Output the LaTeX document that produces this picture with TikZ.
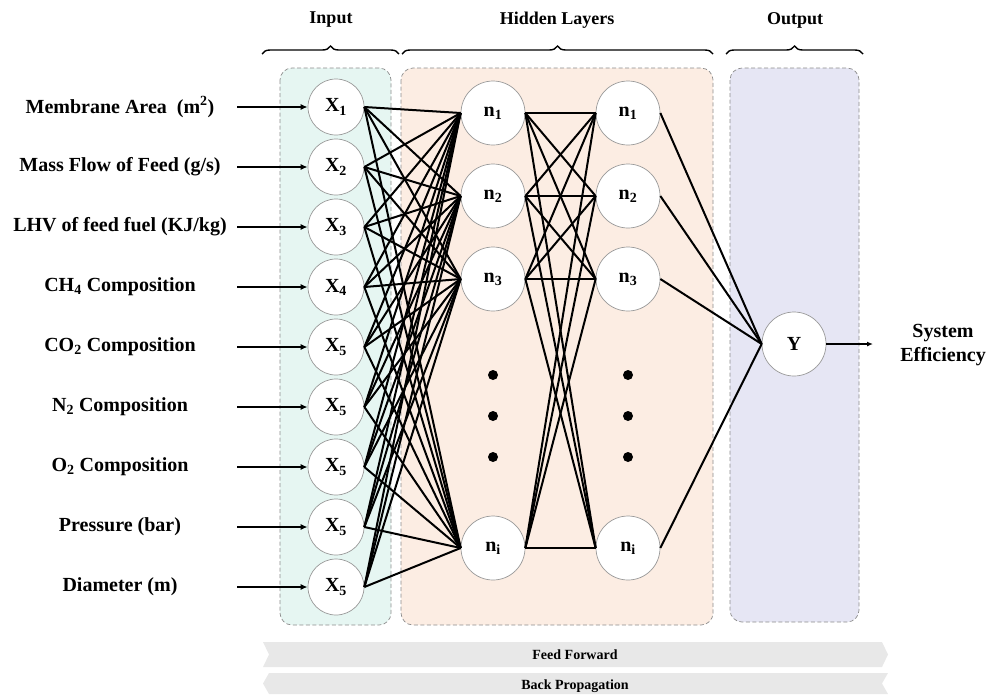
\documentclass[tikz,border=0pt]{standalone}
\usepackage{fontspec}
\setmainfont{Liberation Serif}
\usepackage{xcolor}
\usepackage{tikz}
\usetikzlibrary{arrows.meta,decorations.pathreplacing}

\definecolor{inbox}{HTML}{E6F6F2}
\definecolor{hidbox}{HTML}{FCEDE3}
\definecolor{outbox}{HTML}{E6E6F4}
\definecolor{band}{HTML}{E8E8E8}

\tikzset{
  neuron/.style={circle, draw=black!40, fill=white, line width=0.7pt, minimum size=56pt, inner sep=0pt, font=\fontsize{20}{22}\selectfont\bfseries},
  hidneuron/.style={neuron, minimum size=64pt},
  layerbox/.style={draw=black!45, dash pattern=on 4pt off 2.5pt, line width=0.7pt, rounded corners=12pt},
  link/.style={line width=2pt},
  feature/.style={font=\fontsize{20}{24}\selectfont\bfseries},
  header/.style={font=\fontsize{18}{20}\selectfont\bfseries},
  layerbrace/.style={decorate, decoration={brace, amplitude=8pt}, line width=1.4pt},
  bandtext/.style={font=\fontsize{14}{16}\selectfont\bfseries}
}

\begin{document}
\begin{tikzpicture}[x=1pt, y=-1pt]
\useasboundingbox (0,0) rectangle (992,694);

% layer boxes
\draw[layerbox, fill=inbox] (280,68) rectangle (391,625);
\draw[layerbox, fill=hidbox] (401,68) rectangle (713,625);
\draw[layerbox, fill=outbox] (730,68) rectangle (859,622);

% headers and braces
\node[header] (hin) at (331,20) {Input};
\node[header] (hhid) at (557,20) {Hidden Layers};
\node[header] (hout) at (795,20) {Output};
\draw[layerbrace] (262,54) -- (399,54);
\draw[layerbrace] (402,54) -- (713,54);
\draw[layerbrace] (726,54) -- (863,54);

% input layer
\foreach \k/\s/\txt [count=\i] in {
  1/1/{Membrane Area \ (m\textsuperscript{2})},
  2/2/{Mass Flow of Feed (g/s)},
  3/3/{LHV of feed fuel (KJ/kg)},
  4/4/{CH\textsubscript{4} Composition},
  5/5/{CO\textsubscript{2} Composition},
  6/5/{N\textsubscript{2} Composition},
  7/5/{O\textsubscript{2} Composition},
  8/5/{Pressure (bar)},
  9/5/{Diameter (m)}}
{
  \node[neuron] (x\k) at (336,{107+60*(\k-1)}) {X\textsubscript{\s}};
  \node[feature] (f\k) at (120,{107+60*(\k-1)}) {\txt};
  \coordinate (fa\k) at (237,{107+60*(\k-1)});
  \draw[line width=2.4pt, -{Latex[length=7pt,width=6pt]}] (fa\k) -- (x\k.west);
}

% hidden layers
\foreach \j/\yy/\s in {1/113/1, 2/196/2, 3/279/3, 4/548/i}
{
  \node[hidneuron] (ha\j) at (493,\yy) {n\textsubscript{\s}};
  \node[hidneuron] (hb\j) at (628,\yy) {n\textsubscript{\s}};
}
\foreach \yy in {375,416,457}
{
  \fill (493,\yy) circle (5pt);
  \fill (628,\yy) circle (5pt);
}

% output
\node[hidneuron] (y) at (794,344) {Y};
\node[feature, align=center] (eff) at (943,345) {System\\Efficiency};
\coordinate (ya) at (873,344);
\draw[line width=1.3pt, -{Latex[length=6pt,width=5pt]}] (y.east) -- (ya);

% connections
\foreach \k in {1,...,9}
  \foreach \j in {1,...,4}
    \draw[link] (x\k.east) -- (ha\j.west);
\foreach \j in {1,...,4}
  \foreach \m in {1,...,4}
    \draw[link] (ha\j.east) -- (hb\m.west);
\foreach \m in {1,...,4}
  \draw[link] (hb\m.east) -- (y.west);

% feed forward / back propagation
\fill[band] (263,642) -- (882,642) -- (888,654.5) -- (882,667) -- (263,667) -- (269,654.5) -- cycle;
\fill[band] (269,673) -- (888,673) -- (882,683.5) -- (888,694) -- (269,694) -- (263,683.5) -- cycle;
\node[bandtext] (ff) at (575,655) {Feed Forward};
\node[bandtext] (bp) at (575,686) {Back Propagation};

\end{tikzpicture}
\end{document}
